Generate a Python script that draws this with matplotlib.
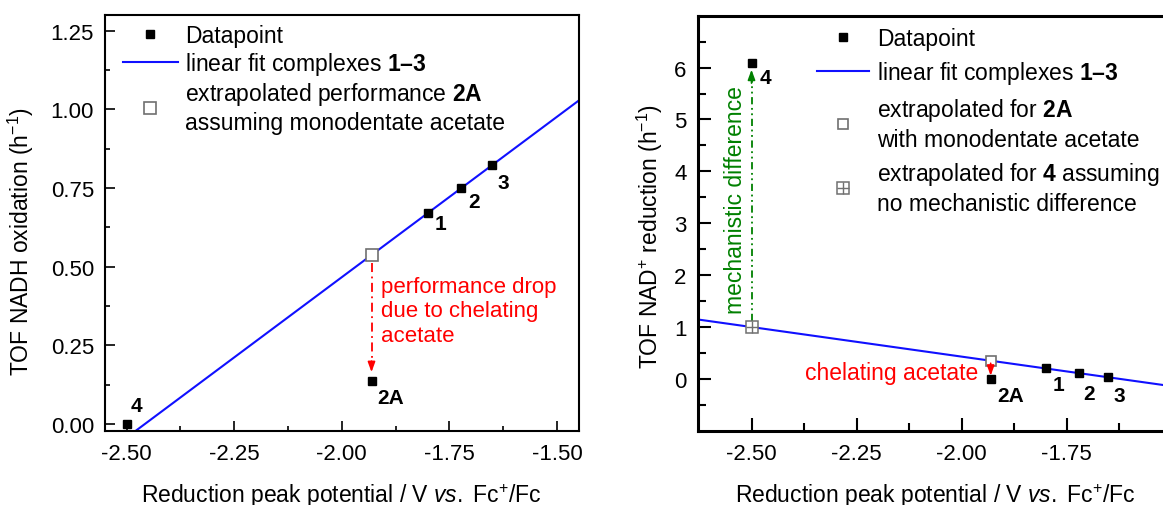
import numpy as np
import matplotlib
matplotlib.use('Agg')
import matplotlib.pyplot as plt
from matplotlib.legend_handler import HandlerTuple

plt.rcParams['font.family'] = ['Liberation Sans', 'DejaVu Sans']
plt.rcParams['mathtext.fontset'] = 'custom'
plt.rcParams['mathtext.rm'] = 'Liberation Sans'
plt.rcParams['mathtext.it'] = 'Liberation Sans:italic'
plt.rcParams['mathtext.bf'] = 'Liberation Sans:bold'

# complexes 1, 2, 3, 2A, 4
names = ['1', '2', '3', '2A', '4']
potential = [-1.80, -1.722, -1.651, -1.931, -2.50]
tof_nadh = [0.671, 0.75, 0.823, 0.138, 0.0]
tof_nad = [0.20, 0.11, 0.03, 0.0, 6.09]

# label offsets (points) for the bold numbers
off_left = [(5, -1), (5, -3), (4, -6), (4, -5.5), (3, 6.5)]
off_right = [(5, -5), (3.5, -8), (3.5, -6.5), (5, -5), (6, -4)]

FS = 16.5
BLUE = '#1010ff'
GREY = '#707070'

fig = plt.figure(figsize=(11.63, 5.06), dpi=100)
ax1 = fig.add_axes([105 / 1163, (506 - 432) / 506, 473.6 / 1163, 416 / 506])
ax2 = fig.add_axes([697.7 / 1163, (506 - 431.7) / 506, 475.8 / 1163, 415 / 506])

E = np.array(potential)
fit_ox = np.polyfit(E[:3], np.array(tof_nadh)[:3], 1)
fit_red = np.polyfit(E[:3], np.array(tof_nad)[:3], 1)

# ---- left: NADH oxidation
ax1.set_xlim(-2.55, -1.45)
ax1.set_ylim(-0.022, 1.30)
xs = np.array(ax1.get_xlim())
ax1.plot(E, tof_nadh, ls='none', marker='s', ms=5.5, color='black', label='Datapoint', zorder=4)
ax1.plot(xs, np.polyval(fit_ox, xs), color=BLUE, lw=1.5, label=r'linear fit complexes $\mathbf{1–3}$', zorder=2)
ext2A = np.polyval(fit_ox, E[3])
ax1.plot([E[3]], [ext2A], ls='none', marker='s', ms=9, mfc='white', mec=GREY, mew=1.2,
         label='extrapolated performance $\\mathbf{2A}$\nassuming monodentate acetate', zorder=3)
ax1.plot([E[3], E[3]], [ext2A - 0.025, 0.19], color='red', lw=1.3, ls=(0, (5, 2.5, 1, 2.5)))
ax1.annotate('', xy=(E[3], 0.165), xytext=(E[3], 0.20),
             arrowprops=dict(arrowstyle='-|>,head_length=0.6,head_width=0.22', color='red', lw=1.2,
                             shrinkA=0, shrinkB=0))
ax1.text(E[3] + 0.023, 0.47, 'performance drop\ndue to chelating\nacetate', color='red',
         fontsize=16, va='top', ha='left', linespacing=1.2)
for n, x, y, o in zip(names, potential, tof_nadh, off_left):
    ax1.annotate(n, (x, y), xytext=o, textcoords='offset points', fontsize=15, fontweight='bold',
                 ha='left', va='bottom' if n == '4' else 'top')

ax1.set_xticks([-2.5, -2.25, -2.0, -1.75, -1.5])
ax1.set_xticks(np.arange(-2.375, -1.45, 0.25), minor=True)
ax1.set_xticklabels(['-2.50', '-2.25', '-2.00', '-1.75', '-1.50'])
ax1.set_yticks([0, 0.25, 0.5, 0.75, 1.0, 1.25])
ax1.set_yticks(np.arange(0.125, 1.3, 0.25), minor=True)
ax1.set_yticklabels(['0.00', '0.25', '0.50', '0.75', '1.00', '1.25'])
ax1.tick_params(which='both', direction='in', labelsize=16, width=1.2)
ax1.tick_params(which='major', length=7)
ax1.tick_params(which='minor', length=3.5)
ax1.tick_params(axis='x', pad=9)
ax1.tick_params(axis='y', pad=8)
for s in ax1.spines.values():
    s.set_linewidth(1.5)
ax1.set_xlabel(r'Reduction peak potential / V $\mathit{vs.}$ Fc$^{+}$/Fc', fontsize=FS, labelpad=12)
ax1.set_ylabel(r'TOF NADH oxidation (h$^{-1}$)', fontsize=FS)
ax1.yaxis.set_label_coords(-0.146, 0.457)
leg1 = ax1.legend(loc='upper left', bbox_to_anchor=(0.038, 0.978), borderaxespad=0, borderpad=0,
                  handlelength=2.4, handletextpad=0.3, labelspacing=0.12, frameon=False, fontsize=FS)
for t in leg1.get_texts():
    t.set_linespacing(1.25)

# ---- right: NAD+ reduction
ax2.set_xlim(-2.628, -1.496)
ax2.set_ylim(-1, 7)
xs = np.array(ax2.get_xlim())
ax2.plot(E, tof_nad, ls='none', marker='s', ms=5.5, color='black', label='Datapoint', zorder=4)
ax2.plot(xs, np.polyval(fit_red, xs), color=BLUE, lw=1.5, label=r'linear fit complexes $\mathbf{1–3}$', zorder=2)
ext2A_r = np.polyval(fit_red, E[3])
ext4_r = np.polyval(fit_red, E[4])
h_sq, = ax2.plot([E[3]], [ext2A_r], ls='none', marker='s', ms=7.2, mfc='white', mec=GREY, mew=1.2,
                 label='extrapolated for $\\mathbf{2A}$\nwith monodentate acetate', zorder=3)
h_c1, = ax2.plot([E[4]], [ext4_r], ls='none', marker='s', ms=8, mfc='white', mec=GREY, mew=1.1, zorder=3)
h_c2, = ax2.plot([E[4]], [ext4_r], ls='none', marker='+', ms=8, mec=GREY, mew=1.0, zorder=3)

ax2.plot([E[4], E[4]], [ext4_r + 0.12, 5.75], color='#008000', lw=1.3, ls=(0, (4, 2, 1, 2, 1, 2)))
ax2.annotate('', xy=(E[4], 5.96), xytext=(E[4], 5.7),
             arrowprops=dict(arrowstyle='-|>,head_length=0.6,head_width=0.22', color='#008000', lw=1.2,
                             shrinkA=0, shrinkB=0))
ax2.annotate('mechanistic difference', (E[4], 3.46), xytext=(-3, 0), textcoords='offset points',
             rotation=90, color='#008000', fontsize=16.5, ha='right', va='center')
ax2.annotate('', xy=(E[3], 0.06), xytext=(E[3], 0.30),
             arrowprops=dict(arrowstyle='-|>,head_length=0.6,head_width=0.22', color='red', lw=1.2,
                             shrinkA=0, shrinkB=0))
ax2.annotate('chelating acetate', (E[3], 0.13), xytext=(-9, 0), textcoords='offset points',
             color='red', fontsize=16.5, ha='right', va='center')
for n, x, y, o in zip(names, potential, tof_nad, off_right):
    ax2.annotate(n, (x, y), xytext=o, textcoords='offset points', fontsize=15, fontweight='bold',
                 ha='left', va='top')

ax2.set_xticks([-2.5, -2.25, -2.0, -1.75])
ax2.set_xticks([-2.375, -2.125, -1.875, -1.625], minor=True)
ax2.set_xticklabels(['-2.50', '-2.25', '-2.00', '-1.75'])
ax2.set_yticks(range(0, 7))
ax2.set_yticks(np.arange(-0.5, 7, 1.0), minor=True)
ax2.tick_params(which='both', direction='in', labelsize=16, width=1.5)
ax2.tick_params(which='major', length=9.5)
ax2.tick_params(which='minor', length=6)
ax2.tick_params(axis='x', pad=9)
ax2.tick_params(axis='y', pad=8)
for s in ax2.spines.values():
    s.set_linewidth(2.2)
ax2.set_xlabel(r'Reduction peak potential / V $\mathit{vs.}$ Fc$^{+}$/Fc', fontsize=FS, labelpad=12)
ax2.set_ylabel(r'TOF NAD$^{+}$ reduction (h$^{-1}$)', fontsize=FS)
ax2.yaxis.set_label_coords(-0.069, 0.47)
leg2 = ax2.legend([ax2.lines[0], ax2.lines[1], h_sq, (h_c1, h_c2)],
                  ['Datapoint', r'linear fit complexes $\mathbf{1–3}$',
                   'extrapolated for $\\mathbf{2A}$\nwith monodentate acetate',
                   'extrapolated for $\\mathbf{4}$ assuming\nno mechanistic difference'],
                  handler_map={tuple: HandlerTuple(ndivide=1)},
                  loc='upper left', bbox_to_anchor=(0.25, 0.972), borderaxespad=0, borderpad=0,
                  handlelength=2.3, handletextpad=0.33, labelspacing=0.4, frameon=False, fontsize=FS)
for t in leg2.get_texts():
    t.set_linespacing(1.27)

fig.savefig('out.png', dpi=100)
